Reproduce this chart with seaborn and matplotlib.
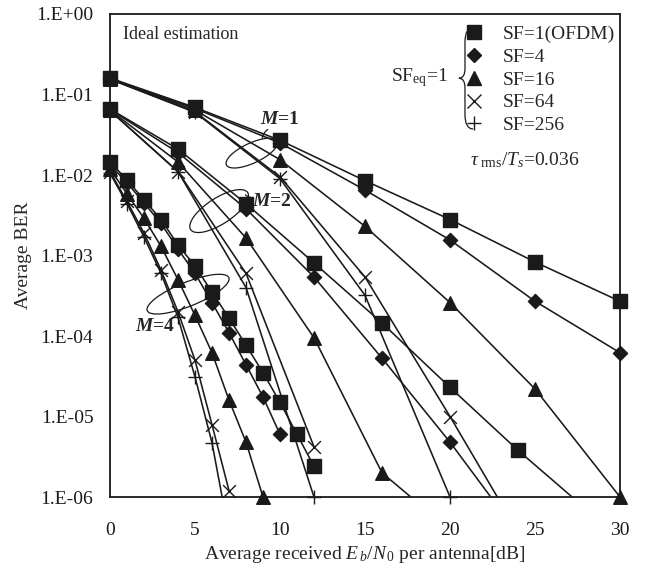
import numpy as np
import pandas as pd
import matplotlib
matplotlib.use("Agg")
import matplotlib.pyplot as plt
import seaborn as sns
from matplotlib.lines import Line2D
from matplotlib.patches import Ellipse, PathPatch
from matplotlib.path import Path
from matplotlib.transforms import ScaledTranslation
from matplotlib.ticker import FixedLocator, LogLocator, MultipleLocator, FuncFormatter, NullFormatter

# Eb/N0 points for each number of antennas M
snr_m1 = [0, 5, 10, 15, 20, 25, 30]
snr_m2 = [0, 4, 8, 12, 16, 20, 24, 28]
snr_m4 = [0, 1, 2, 3, 4, 5, 6, 7, 8, 9, 10, 11, 12]

sf_labels = ["SF=1(OFDM)", "SF=4", "SF=16", "SF=64", "SF=256"]

# BER (points below 1E-6 only set where the line leaves the axes)
ber_m1 = {
    "SF=1(OFDM)": [0.16, 0.069, 0.027, 0.0085, 0.0028, 0.00083, 0.00027],
    "SF=4": [0.158, 0.067, 0.025, 0.0065, 0.00156, 0.00027, 6.2e-5],
    "SF=16": [0.157, 0.064, 0.0155, 0.0023, 2.6e-4, 2.2e-5, 1.0e-6],
    "SF=64": [0.155, 0.061, 0.0095, 5.4e-4, 1.0e-5, 1.6e-7],
    "SF=256": [0.155, 0.060, 0.0090, 3.2e-4, 1.0e-6],
}
ber_m2 = {
    "SF=1(OFDM)": [0.066, 0.021, 0.0044, 8.1e-4, 1.45e-4, 2.3e-5, 3.8e-6, 7.1e-7],
    "SF=4": [0.065, 0.019, 0.0038, 5.4e-4, 5.3e-5, 4.8e-6, 3.5e-7],
    "SF=16": [0.064, 0.0145, 0.00165, 9.5e-5, 2.0e-6, 3.9e-7],
    "SF=64": [0.063, 0.011, 6.0e-4, 4.2e-6],
    "SF=256": [0.063, 0.011, 4.0e-4, 1.0e-6],
}
ber_m4 = {
    "SF=1(OFDM)": [0.0145, 0.0087, 0.0049, 0.0028, 0.00135, 7.4e-4, 3.5e-4, 1.67e-4,
                   7.7e-5, 3.5e-5, 1.5e-5, 6.0e-6, 2.4e-6],
    "SF=4": [0.0135, 0.0080, 0.0045, 0.0025, 0.0012, 6.0e-4, 2.6e-4, 1.1e-4,
             4.4e-5, 1.75e-5, 6.0e-6],
    "SF=16": [0.012, 0.0058, 0.0029, 0.0013, 5.0e-4, 1.8e-4, 6.2e-5, 1.6e-5, 4.8e-6, 1.0e-6],
    "SF=64": [0.011, 0.0047, 0.0019, 6.6e-4, 2.0e-4, 5.0e-5, 7.9e-6, 1.2e-6],
    "SF=256": [0.0105, 0.0044, 0.0017, 6.0e-4, 1.7e-4, 3.1e-5, 4.7e-6, 3.5e-7],
}

markers = {"SF=1(OFDM)": "s", "SF=4": "D", "SF=16": "^", "SF=64": "x", "SF=256": "+"}
msizes = {"SF=1(OFDM)": 100, "SF=4": 52, "SF=16": 95, "SF=64": 85, "SF=256": 110}

rows = []
for m, snr, ber in [(1, snr_m1, ber_m1), (2, snr_m2, ber_m2), (4, snr_m4, ber_m4)]:
    for sf in sf_labels:
        for x, y in zip(snr, ber[sf]):
            rows.append({"M": m, "sf": sf, "snr": x, "ber": y})
df = pd.DataFrame(rows)

sns.set_theme(style="white")
plt.rcParams["font.family"] = ["Liberation Serif", "DejaVu Serif"]
plt.rcParams["mathtext.fontset"] = "custom"
plt.rcParams["mathtext.rm"] = "Liberation Serif"
plt.rcParams["mathtext.it"] = "Liberation Serif:italic"
plt.rcParams["mathtext.bf"] = "Liberation Serif:bold"
plt.rcParams["mathtext.bfit"] = "Liberation Serif:italic:bold"

fig = plt.figure(figsize=(6.46, 5.69), dpi=100)
ax = fig.add_axes([0.1703, 0.1265, 0.7895, 0.8489])

for sf in sf_labels:
    sub = df[df.sf == sf]
    sns.lineplot(data=sub, x="snr", y="ber", units="M", estimator=None, sort=True,
                 color="k", lw=1.15, ax=ax, legend=False)
    vis = sub[sub.ber >= 0.999e-6]
    sns.scatterplot(data=vis, x="snr", y="ber", marker=markers[sf], s=msizes[sf],
                    color="k", edgecolor="k", linewidth=1.0, clip_on=False,
                    zorder=4, ax=ax, legend=False)

ax.set_yscale("log")
ax.set_xlim(0, 30)
ax.set_ylim(1e-6, 1)
ax.xaxis.set_major_locator(MultipleLocator(5))
ax.xaxis.set_minor_locator(MultipleLocator(1))
ax.yaxis.set_major_locator(FixedLocator([10.0 ** k for k in range(-6, 1)]))
ax.yaxis.set_minor_locator(LogLocator(base=10, subs=np.arange(2, 10)))
ax.yaxis.set_minor_formatter(NullFormatter())
ax.yaxis.set_major_formatter(FuncFormatter(lambda v, _: "1.E{:+03d}".format(int(round(np.log10(v))))))

ax.tick_params(axis="both", which="both", direction="in", top=False, right=False,
               colors="k", labelsize=14)
ax.tick_params(axis="y", which="major", length=6, width=1.0, pad=12)
ax.tick_params(axis="y", which="minor", length=3.5, width=0.8)
ax.tick_params(axis="x", which="major", length=4.5, width=1.0, pad=18)
ax.tick_params(axis="x", which="minor", length=4.5, width=0.8)
for s in ax.spines.values():
    s.set_color("k")
    s.set_linewidth(1.3)

ax.set_xlabel(r"Average received $E_{\,b}/N_{\,0}$ per antenna[dB]", fontsize=14)
ax.set_ylabel("Average BER", fontsize=14)
ax.xaxis.set_label_coords(0.5, -0.097)
ax.yaxis.set_label_coords(-0.152, 0.5)

ax.text(0.0255, 0.957, "Ideal estimation", transform=ax.transAxes, fontsize=13,
        ha="left", va="center")
ax.text(0.706, 0.698, r"$\tau_{\ \rm rms}/T_s$=0.036", transform=ax.transAxes,
        fontsize=14, ha="left", va="center")
ax.text(0.663, 0.8675, r"SF$_{\rm eq}$=1", transform=ax.transAxes, fontsize=14,
        ha="right", va="center")

# brace in front of the legend
bx0, bx1, bxm = 0.712, 0.696, 0.684
btop, bmid, bbot = 0.972, 0.867, 0.762
verts = [(bx0, btop), (bx1, btop), (bx1, btop - 0.03), (bx1, bmid + 0.02),
         (bx1, bmid), (bxm, bmid), (bx1, bmid), (bx1, bmid - 0.02),
         (bx1, bbot + 0.03), (bx1, bbot), (bx0, bbot)]
codes = [Path.MOVETO, Path.CURVE3, Path.CURVE3, Path.LINETO, Path.CURVE3, Path.CURVE3,
         Path.CURVE3, Path.CURVE3, Path.LINETO, Path.CURVE3, Path.CURVE3]
ax.add_patch(PathPatch(Path(verts, codes), transform=ax.transAxes, fill=False,
                       lw=0.9, ec="k", clip_on=False))

handles = [Line2D([], [], ls="none", marker=markers[sf], color="k", mec="k",
                  markersize=9.5 if markers[sf] != "D" else 7, mew=1.0)
           for sf in sf_labels]
ax.legend(handles, sf_labels, loc="upper left", bbox_to_anchor=(0.694, 0.977),
          frameon=False, fontsize=14, handlelength=1.0, handletextpad=1.0,
          labelspacing=0.27, borderaxespad=0, borderpad=0)

# M group labels with loops
def loop(cx, cy, w, h, ang):
    tr = fig.dpi_scale_trans + ScaledTranslation(cx, cy, ax.transAxes)
    ax.add_patch(Ellipse((0, 0), w / 100, h / 100, angle=ang, transform=tr,
                         fill=False, lw=0.9, ec="k", clip_on=False))

loop(0.278, 0.712, 56, 20, 25)
loop(0.214, 0.592, 68, 26, 33)
loop(0.153, 0.420, 88, 24, 22)
ax.annotate("", xy=(0.298, 0.737), xytext=(0.314, 0.764), xycoords="axes fraction",
            arrowprops=dict(arrowstyle="-", lw=0.9, color="k", connectionstyle="arc3,rad=0.3"))
ax.annotate("", xy=(0.262, 0.630), xytext=(0.282, 0.620), xycoords="axes fraction",
            arrowprops=dict(arrowstyle="-", lw=0.9, color="k", connectionstyle="arc3,rad=-0.3"))
for txt, x, y in [("=1", 0.333, 0.781), ("=2", 0.318, 0.611), ("=4", 0.088, 0.354)]:
    ax.text(x, y, r"$\mathbfit{M}$" + txt, transform=ax.transAxes, fontsize=14,
            fontweight="bold", ha="center", va="center")

fig.savefig("out.png", dpi=100)
